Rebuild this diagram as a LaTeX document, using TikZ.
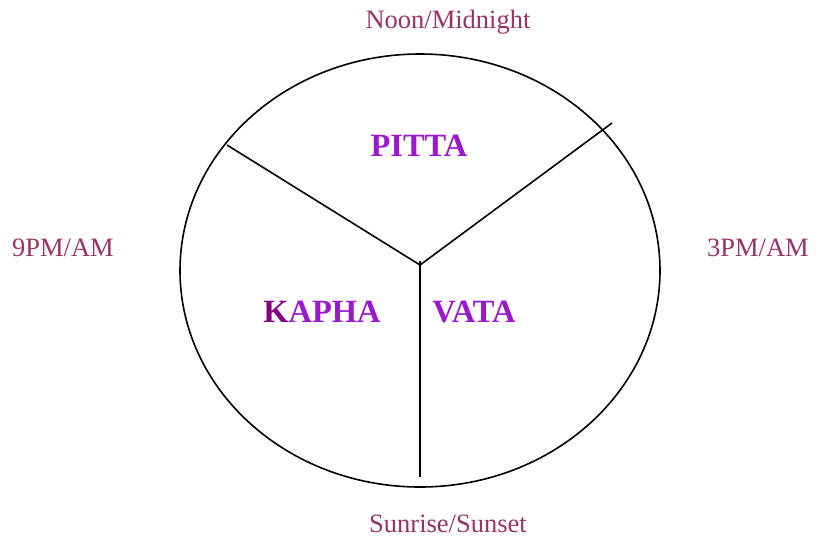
\documentclass[tikz,border=0pt]{standalone}
\usepackage{fontspec}
\setmainfont{Liberation Serif}
\usetikzlibrary{shapes.geometric}
\definecolor{lbl}{HTML}{993366}
\definecolor{dosha}{HTML}{9B19CC}
\definecolor{kdark}{HTML}{800080}
\begin{document}
\begin{tikzpicture}[x=1pt,y=-1pt,
  timelbl/.style={text=lbl,font=\fontsize{26.5}{29}\selectfont,inner sep=0pt,anchor=center},
  doshalbl/.style={text=dosha,font=\fontsize{32.5}{35}\selectfont\bfseries,inner sep=0pt,anchor=center},
  divider/.style={draw=black,line width=1.6pt}]
\useasboundingbox (0,0) rectangle (816,539);
\node[draw=black,line width=1.6pt,ellipse,minimum width=480pt,minimum height=433pt,inner sep=0pt] (circ) at (420,270.5) {};
\coordinate (c) at (420,265);
\coordinate (top) at (420,261);
\coordinate (ul) at (227,145);
\coordinate (ur) at (612,123);
\coordinate (bot) at (420,477);
\draw[divider] (ul) -- (c) -- (ur);
\draw[divider] (top) -- (bot);
\node[doshalbl] (pitta) at (419,146) {PITTA};
\node[doshalbl] (kapha) at (322,312) {\textcolor{kdark}{K}APHA};
\node[doshalbl] (vata) at (474,312) {VATA};
\node[timelbl] (noon) at (448,22) {Noon/Midnight};
\node[timelbl] (sun) at (448,524) {Sunrise/Sunset};
\node[timelbl] (nine) at (63,248) {9PM/AM};
\node[timelbl] (three) at (758,248) {3PM/AM};
\end{tikzpicture}
\end{document}
